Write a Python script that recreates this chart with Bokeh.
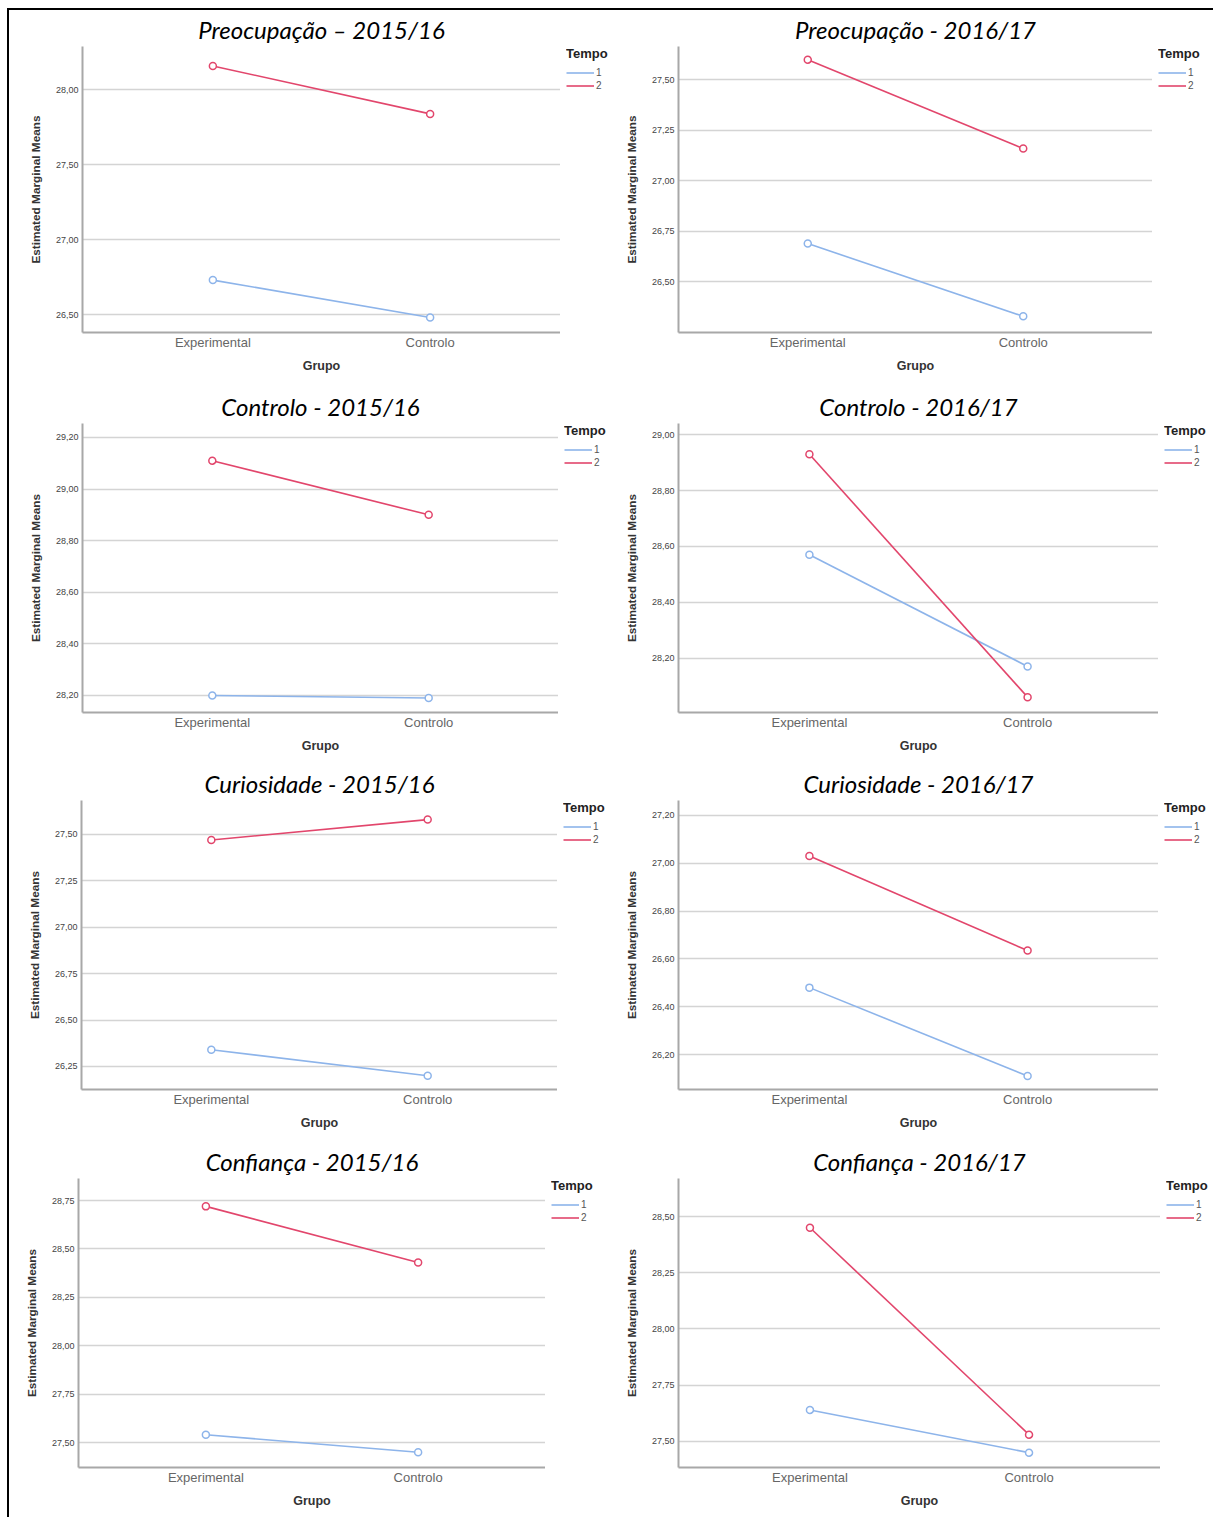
from bokeh.plotting import figure
from bokeh.layouts import column, row
from bokeh.models import (FactorRange, Range1d, FixedTicker, CustomJSTickFormatter,
                          Legend, LegendItem)
from bokeh.embed import file_html
from bokeh.resources import INLINE

# ---------------- data ----------------
grupos = ["Experimental", "Controlo"]
tempos = ["1", "2"]

preoc_1516_t1 = [26.73, 26.48]
preoc_1516_t2 = [28.16, 27.84]
preoc_1516_ticks = [26.50, 27.00, 27.50, 28.00]

preoc_1617_t1 = [26.69, 26.33]
preoc_1617_t2 = [27.60, 27.16]
preoc_1617_ticks = [26.50, 26.75, 27.00, 27.25, 27.50]

contr_1516_t1 = [28.20, 28.19]
contr_1516_t2 = [29.11, 28.90]
contr_1516_ticks = [28.20, 28.40, 28.60, 28.80, 29.00, 29.20]

contr_1617_t1 = [28.57, 28.17]
contr_1617_t2 = [28.93, 28.06]
contr_1617_ticks = [28.20, 28.40, 28.60, 28.80, 29.00]

curio_1516_t1 = [26.34, 26.20]
curio_1516_t2 = [27.47, 27.58]
curio_1516_ticks = [26.25, 26.50, 26.75, 27.00, 27.25, 27.50]

curio_1617_t1 = [26.48, 26.11]
curio_1617_t2 = [27.03, 26.635]
curio_1617_ticks = [26.20, 26.40, 26.60, 26.80, 27.00, 27.20]

conf_1516_t1 = [27.54, 27.45]
conf_1516_t2 = [28.72, 28.43]
conf_1516_ticks = [27.50, 27.75, 28.00, 28.25, 28.50, 28.75]

conf_1617_t1 = [27.64, 27.45]
conf_1617_t2 = [28.45, 27.53]
conf_1617_ticks = [27.50, 27.75, 28.00, 28.25, 28.50]

titles = ["Preocupação – 2015/16", "Preocupação - 2016/17",
          "Controlo - 2015/16", "Controlo - 2016/17",
          "Curiosidade - 2015/16", "Curiosidade - 2016/17",
          "Confiança - 2015/16", "Confiança - 2016/17"]

# ---------------- layout / style (not data) ----------------
# (y range, left border, right border, top border, bottom border)
layout_specs = [
    ((26.38, 28.29), 73, 51, 35, 55),
    ((26.25, 27.665), 67, 61, 35, 55),
    ((28.134, 29.254), 73, 53, 36, 52),
    ((28.005, 29.04), 67, 55, 36, 52),
    ((26.126, 27.683), 72, 54, 36, 52),
    ((26.054, 27.2625), 67, 55, 36, 52),
    ((27.371, 28.864), 69, 66, 37, 51),
    ((27.384, 28.669), 67, 53, 37, 51),
]

series = [
    (preoc_1516_t1, preoc_1516_t2, preoc_1516_ticks),
    (preoc_1617_t1, preoc_1617_t2, preoc_1617_ticks),
    (contr_1516_t1, contr_1516_t2, contr_1516_ticks),
    (contr_1617_t1, contr_1617_t2, contr_1617_ticks),
    (curio_1516_t1, curio_1516_t2, curio_1516_ticks),
    (curio_1617_t1, curio_1617_t2, curio_1617_ticks),
    (conf_1516_t1, conf_1516_t2, conf_1516_ticks),
    (conf_1617_t1, conf_1617_t2, conf_1617_ticks),
]

BLUE = "#8db4ea"
RED = "#e2466c"
GRID = "#d4d4d4"
AXIS = "#a8a8a8"
W = 602
H = 377

fmt = CustomJSTickFormatter(code="return tick.toFixed(2).replace('.', ',');")


def make_panel(title, t1, t2, ticks, spec):
    (y0, y1), bl, br, bt, bb = spec
    p = figure(width=W - br, height=H,
               output_backend="svg", toolbar_location=None,
               x_range=FactorRange(factors=grupos, range_padding=0.1,
                                   range_padding_units="absolute"),
               y_range=Range1d(y0, y1),
               min_border_left=bl, min_border_right=0,
               min_border_top=bt, min_border_bottom=bb)
    p.title.text = title
    p.title.text_font = "Lato"
    p.title.text_font_style = "italic"
    p.title.text_font_size = "24px"
    p.title.text_color = "#000000"
    p.title.align = "center"
    p.title.text_line_height = 0.85
    p.title.standoff = 5
    p.outline_line_color = None
    p.background_fill_color = "white"
    p.border_fill_color = "white"

    p.xgrid.grid_line_color = None
    p.ygrid.grid_line_color = GRID
    p.ygrid.grid_line_width = 1.5
    p.yaxis.ticker = FixedTicker(ticks=ticks)
    p.yaxis.formatter = fmt

    for ax in (p.xaxis[0], p.yaxis[0]):
        ax.axis_line_color = AXIS
        ax.axis_line_width = 2
        ax.major_tick_line_color = None
        ax.minor_tick_line_color = None
        ax.major_tick_out = 0
        ax.major_tick_in = 0
        ax.minor_tick_out = 0
        ax.axis_label_text_font = "Liberation Sans"
        ax.axis_label_text_font_style = "bold"
        ax.axis_label_text_color = "#333333"
        ax.major_label_text_font = "Liberation Sans"
    p.yaxis.axis_label = "Estimated Marginal Means"
    p.yaxis.axis_label_text_font_size = "11.8px"
    p.yaxis.major_label_text_font_size = "9px"
    p.yaxis.major_label_text_color = "#444444"
    p.yaxis.major_label_standoff = 4
    p.yaxis.axis_label_standoff = 10
    p.xaxis.axis_label = "Grupo"
    p.xaxis.axis_label_text_font_size = "12.5px"
    p.xaxis.major_label_text_font_size = "13px"
    p.xaxis.major_label_text_color = "#666666"
    p.xaxis.major_label_standoff = 2
    p.xaxis.axis_label_standoff = 6

    for vals, col in ((t1, BLUE), (t2, RED)):
        p.line(grupos, vals, line_color=col, line_width=1.6)
        p.scatter(grupos, vals, marker="circle", size=7, line_color=col,
                  line_width=1.5, fill_color="white")

    # legend column beside the plot (outside the plotting frame); its lines
    # use the same series, drawn on a hidden y range so only the key shows
    lf = figure(width=br, height=H, output_backend="svg", toolbar_location=None,
                x_range=FactorRange(factors=grupos), y_range=Range1d(0, 1),
                x_axis_location=None, y_axis_location=None,
                min_border_left=6, min_border_right=0,
                min_border_top=bt, min_border_bottom=bb)
    lf.grid.visible = False
    lf.outline_line_color = None
    lf.background_fill_color = "white"
    lf.border_fill_color = "white"
    items = []
    for vals, col, lab in ((t1, BLUE, tempos[0]), (t2, RED, tempos[1])):
        r = lf.line(grupos, vals, line_color=col, line_width=1.6)
        items.append(LegendItem(label=lab, renderers=[r]))
    leg = Legend(items=items, title="Tempo", location="top_left",
                 title_text_font="Liberation Sans", title_text_font_style="bold",
                 title_text_font_size="13px", title_text_color="#222222",
                 title_standoff=5,
                 label_text_font="Liberation Sans", label_text_font_size="10px",
                 label_text_color="#555555", label_standoff=2,
                 glyph_width=28, glyph_height=13, label_height=13,
                 spacing=0, padding=2, margin=0,
                 border_line_color=None, background_fill_alpha=0)
    lf.add_layout(leg, "center")
    return row(p, lf, spacing=0)


panels = [make_panel(titles[i], s[0], s[1], s[2], layout_specs[i])
          for i, s in enumerate(series)]

layout = column(
    row(panels[0], panels[1]),
    row(panels[2], panels[3]),
    row(panels[4], panels[5]),
    row(panels[6], panels[7]),
    styles={"border-left": "2px solid black", "border-top": "2px solid black",
            "margin-left": "7px", "margin-top": "8px"},
)

open("out.html", "w").write(file_html(layout, INLINE))
